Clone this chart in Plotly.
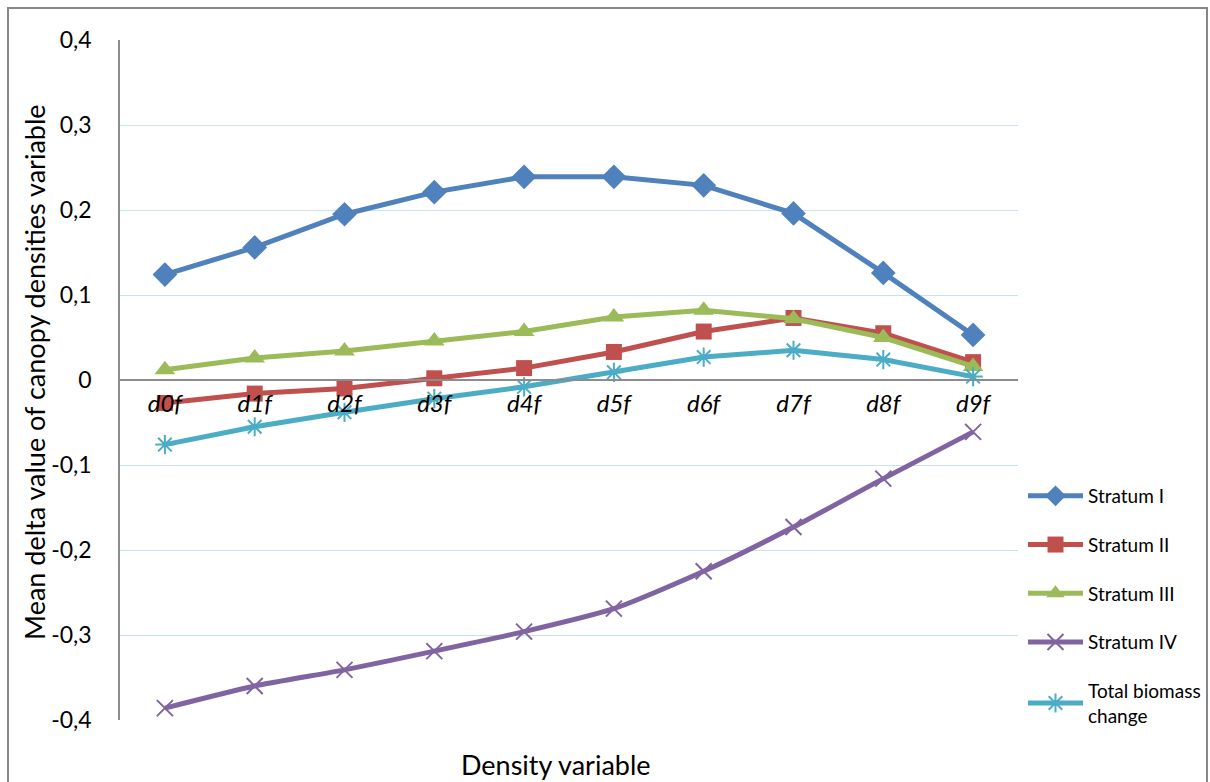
import plotly.graph_objects as go

# Density classes on the x axis
categories = ["d0f", "d1f", "d2f", "d3f", "d4f", "d5f", "d6f", "d7f", "d8f", "d9f"]

# Mean delta values per stratum
stratum_1 = [0.124, 0.156, 0.195, 0.221, 0.239, 0.239, 0.229, 0.196, 0.126, 0.053]
stratum_2 = [-0.027, -0.016, -0.010, 0.002, 0.014, 0.033, 0.057, 0.073, 0.055, 0.021]
stratum_3 = [0.012, 0.026, 0.034, 0.046, 0.057, 0.074, 0.082, 0.072, 0.050, 0.016]
stratum_4 = [-0.386, -0.360, -0.341, -0.319, -0.296, -0.269, -0.225, -0.173, -0.116, -0.061]
total_change = [-0.076, -0.055, -0.038, -0.022, -0.008, 0.009, 0.027, 0.035, 0.024, 0.004]

y_ticks = [-0.4, -0.3, -0.2, -0.1, 0, 0.1, 0.2, 0.3, 0.4]
y_tick_labels = ["-0,4", "-0,3", "-0,2", "-0,1", "0", "0,1", "0,2", "0,3", "0,4"]

FONT = "Lato, Calibri, Carlito, sans-serif"

series = [
    ("Stratum I", stratum_1, "#4F81BD", dict(symbol="diamond", size=19), "linear"),
    ("Stratum II", stratum_2, "#C0504D", dict(symbol="square", size=16), "linear"),
    ("Stratum III", stratum_3, "#9BBB59", dict(symbol="triangle-up", size=18), "linear"),
    ("Stratum IV", stratum_4, "#8064A2", dict(symbol="x-thin-open", size=16, line=dict(width=2)), "spline"),
    ("Total biomass<br>change", total_change, "#4BACC6", dict(symbol="asterisk-open", size=16, line=dict(width=2)), "linear"),
]

fig = go.Figure()
for i, (name, vals, color, marker, shape) in enumerate(series):
    m = dict(marker)
    m["color"] = color
    if "line" in m:
        m["line"] = dict(m["line"], color=color)
    fig.add_trace(go.Scatter(
        x=categories, y=vals, name=name, mode="lines+markers",
        line=dict(color=color, width=5, shape=shape, smoothing=0.6),
        marker=m, legendgroup=f"g{i}", cliponaxis=False,
    ))

L, R, T, B = 120, 192, 40, 62
W, H = 1210, 782
pw, ph = W - L - R, H - T - B

def px_x(x):
    return (x - L) / pw

def px_y(y):
    return (H - B - y) / ph

fig.update_layout(
    width=W, height=H,
    margin=dict(l=L, r=R, t=T, b=B, pad=0, autoexpand=False),
    paper_bgcolor="white", plot_bgcolor="white",
    font=dict(family=FONT, color="black"),
    showlegend=True,
    legend=dict(
        x=px_x(1023), y=px_y(477), xanchor="left", yanchor="top",
        font=dict(size=19, family=FONT, color="black"),
        tracegroupgap=21, bgcolor="rgba(0,0,0,0)", itemwidth=55,
    ),
    xaxis=dict(
        type="category", anchor="free", position=0.5,
        range=[-0.5, 9.5],
        showgrid=False, zeroline=False,
        showline=True, linecolor="#8C8C8C", linewidth=1.5,
        ticks="", tickfont=dict(size=24, family=FONT, style="italic", color="black"),
        ticklabelstandoff=2,
    ),
    yaxis=dict(
        range=[-0.4, 0.4], tickvals=y_ticks, ticktext=y_tick_labels,
        showgrid=True, gridcolor="#C6E4EE", gridwidth=1.2,
        zeroline=True, zerolinecolor="#8C8C8C", zerolinewidth=1.5,
        showline=True, linecolor="#8C8C8C", linewidth=1.5,
        ticks="", tickfont=dict(size=23, family=FONT, color="black"),
        ticklabelstandoff=22,
    ),
    annotations=[
        dict(text="Mean delta value of canopy densities variable", textangle=-90,
             xref="paper", yref="paper", x=px_x(34), y=px_y(372),
             xanchor="center", yanchor="middle", showarrow=False,
             font=dict(size=27, family=FONT, color="black")),
        dict(text="Density variable", xref="paper", yref="paper",
             x=px_x(556), y=px_y(764), xanchor="center", yanchor="middle",
             showarrow=False, font=dict(size=27, family=FONT, color="black")),
    ],
    shapes=[
        dict(type="rect", xref="paper", yref="paper",
             x0=px_x(8), x1=px_x(1207), y0=px_y(830), y1=px_y(8),
             line=dict(color="#878787", width=2), fillcolor="rgba(0,0,0,0)", layer="below"),
    ],
)

fig.write_html("out.html")
